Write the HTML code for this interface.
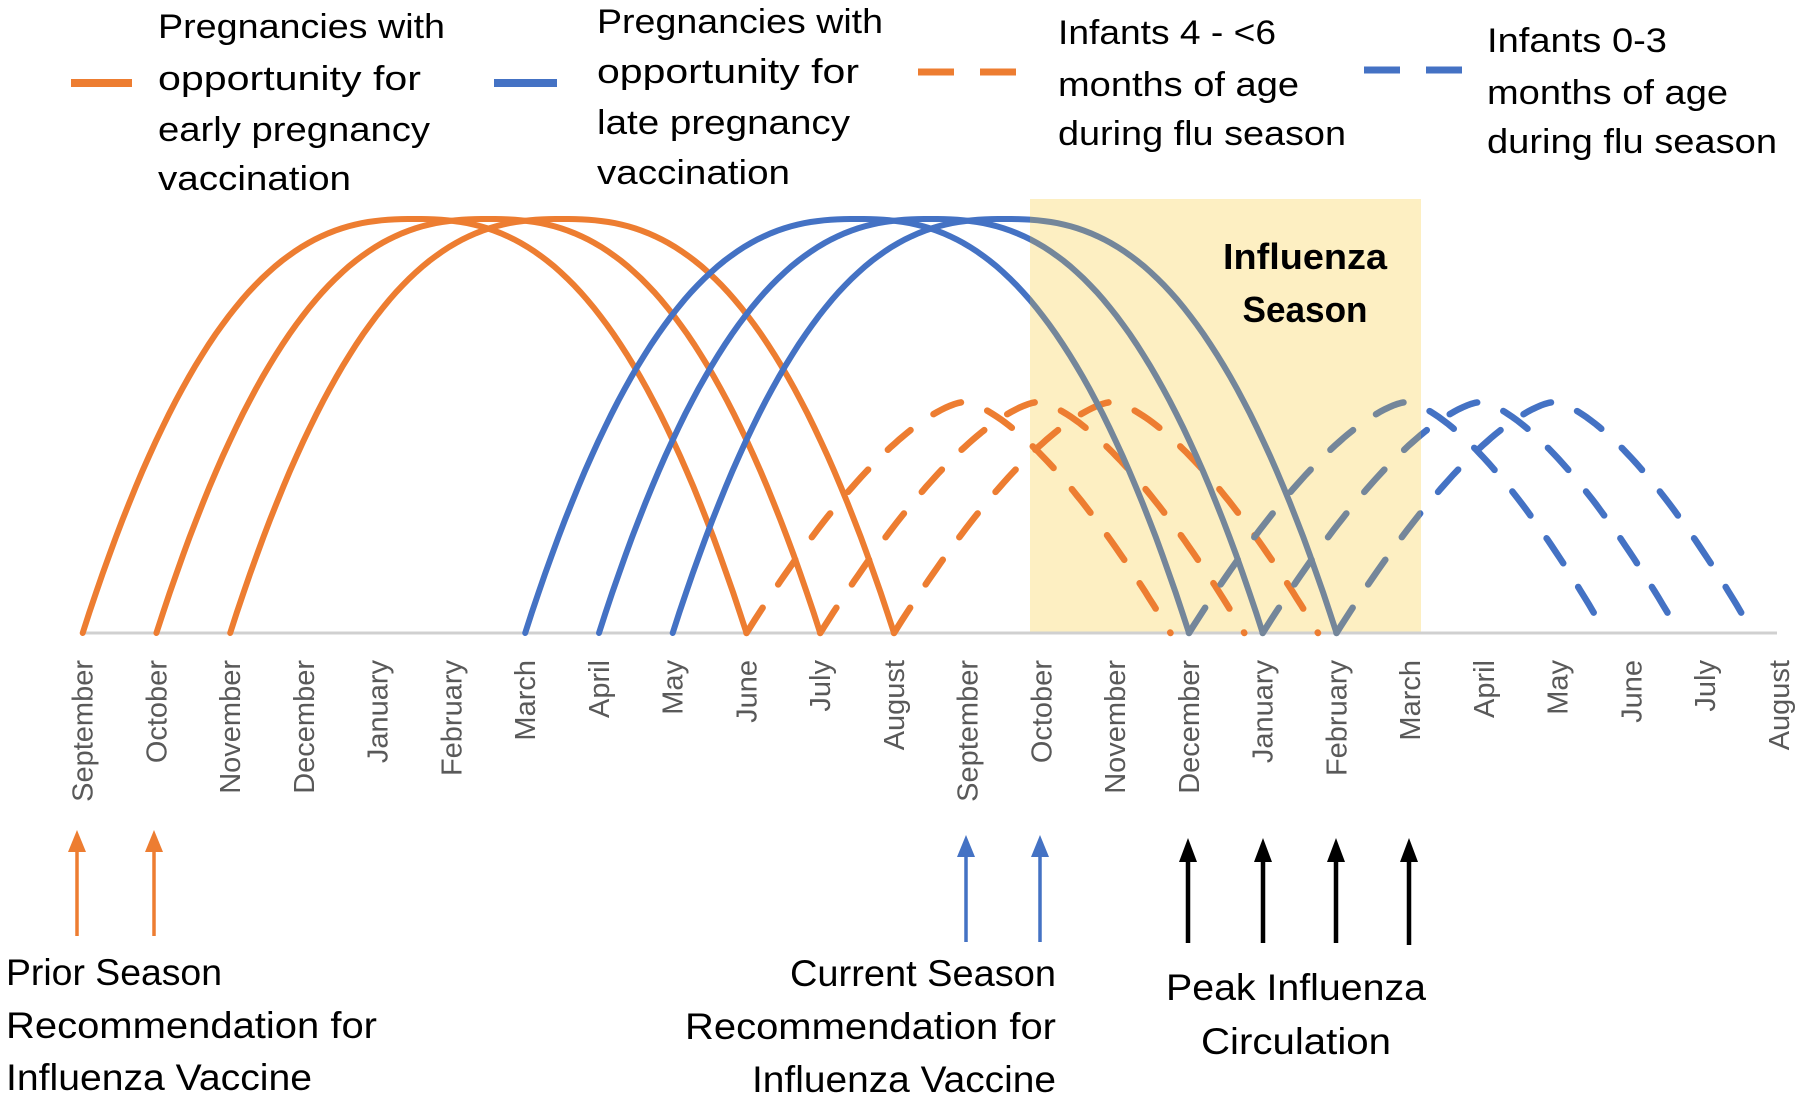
<!DOCTYPE html>
<html><head><meta charset="utf-8"><style>
html,body{margin:0;padding:0;background:#fff;}
svg{display:block;}
text{font-family:"Liberation Sans",sans-serif;}
</style></head><body>
<svg id="s" width="1800" height="1099" viewBox="0 0 1800 1099" xmlns="http://www.w3.org/2000/svg">
<defs>
<clipPath id="out"><rect x="0" y="0" width="1030" height="1099"/><rect x="1421" y="0" width="400" height="1099"/></clipPath>
<clipPath id="in"><rect x="1030" y="0" width="391" height="1099"/></clipPath>
</defs>
<rect x="1030" y="199" width="391" height="434" fill="#FDEFC2"/>
<line x1="80" y1="633" x2="1777" y2="633" stroke="#D0D0D0" stroke-width="3"/>
<g id="curves"></g>
<g id="months" font-size="29" fill="#595959"></g>
<g font-weight="bold" font-size="36" fill="#000" text-anchor="middle">
<text x="1305" y="269" textLength="164" lengthAdjust="spacingAndGlyphs">Influenza</text>
<text x="1305" y="322" textLength="125" lengthAdjust="spacingAndGlyphs">Season</text>
</g>
<line x1="71" y1="83" x2="132" y2="83" stroke="#ED7D31" stroke-width="8"/>
<line x1="494" y1="83" x2="557" y2="83" stroke="#4472C4" stroke-width="8"/>
<line x1="918" y1="72" x2="1019" y2="72" stroke="#ED7D31" stroke-width="7" stroke-dasharray="36,26"/>
<line x1="1364" y1="70" x2="1467" y2="70" stroke="#4472C4" stroke-width="7" stroke-dasharray="36,26"/>
<g font-size="34" fill="#000">
<text x="158" y="38" textLength="287" lengthAdjust="spacingAndGlyphs">Pregnancies with</text>
<text x="158" y="90" textLength="263" lengthAdjust="spacingAndGlyphs">opportunity for</text>
<text x="158" y="141" textLength="272" lengthAdjust="spacingAndGlyphs">early pregnancy</text>
<text x="158" y="190" textLength="193" lengthAdjust="spacingAndGlyphs">vaccination</text>
<text x="597" y="33" textLength="286" lengthAdjust="spacingAndGlyphs">Pregnancies with</text>
<text x="597" y="83" textLength="262" lengthAdjust="spacingAndGlyphs">opportunity for</text>
<text x="597" y="134" textLength="253" lengthAdjust="spacingAndGlyphs">late pregnancy</text>
<text x="597" y="184" textLength="193" lengthAdjust="spacingAndGlyphs">vaccination</text>
<text x="1058" y="44" textLength="218" lengthAdjust="spacingAndGlyphs">Infants 4 - &lt;6</text>
<text x="1058" y="96" textLength="241" lengthAdjust="spacingAndGlyphs">months of age</text>
<text x="1058" y="145" textLength="288" lengthAdjust="spacingAndGlyphs">during flu season</text>
<text x="1487" y="52" textLength="180" lengthAdjust="spacingAndGlyphs">Infants 0-3</text>
<text x="1487" y="104" textLength="241" lengthAdjust="spacingAndGlyphs">months of age</text>
<text x="1487" y="153" textLength="290" lengthAdjust="spacingAndGlyphs">during flu season</text>
</g>
<g stroke-width="3.5">
<line x1="77" y1="936" x2="77" y2="850" stroke="#ED7D31"/><path d="M68 852 L77 830 L86 852Z" fill="#ED7D31"/>
<line x1="154" y1="936" x2="154" y2="850" stroke="#ED7D31"/><path d="M145 852 L154 830 L163 852Z" fill="#ED7D31"/>
<line x1="966" y1="942" x2="966" y2="855" stroke="#4472C4"/><path d="M957 857 L966 835 L975 857Z" fill="#4472C4"/>
<line x1="1040" y1="942" x2="1040" y2="855" stroke="#4472C4"/><path d="M1031 857 L1040 835 L1049 857Z" fill="#4472C4"/>
</g>
<g stroke="#000" stroke-width="4.5" fill="#000">
<line x1="1188" y1="943" x2="1188" y2="860"/><path d="M1179 862 L1188 838 L1197 862Z" stroke="none"/>
<line x1="1263" y1="943" x2="1263" y2="860"/><path d="M1254 862 L1263 838 L1272 862Z" stroke="none"/>
<line x1="1336" y1="943" x2="1336" y2="860"/><path d="M1327 862 L1336 838 L1345 862Z" stroke="none"/>
<line x1="1409" y1="945" x2="1409" y2="860"/><path d="M1400 862 L1409 838 L1418 862Z" stroke="none"/>
</g>
<g font-size="37" fill="#000">
<text x="6" y="985" textLength="216" lengthAdjust="spacingAndGlyphs">Prior Season</text>
<text x="6" y="1038" textLength="371" lengthAdjust="spacingAndGlyphs">Recommendation for</text>
<text x="6" y="1090" textLength="306" lengthAdjust="spacingAndGlyphs">Influenza Vaccine</text>
<text x="790" y="986" textLength="266" lengthAdjust="spacingAndGlyphs">Current Season</text>
<text x="685" y="1039" textLength="371" lengthAdjust="spacingAndGlyphs">Recommendation for</text>
<text x="752" y="1092" textLength="304" lengthAdjust="spacingAndGlyphs">Influenza Vaccine</text>
<text x="1166" y="1000" textLength="260" lengthAdjust="spacingAndGlyphs">Peak Influenza</text>
<text x="1201" y="1054" textLength="190" lengthAdjust="spacingAndGlyphs">Circulation</text>
</g>
</svg>
<script>
var NS="http://www.w3.org/2000/svg";
var X0=82.7,DX=73.75,BASE=633;
function X(i){return X0+DX*i;}
function arc(s,pk,e,top,p){var d="",n=100;var xs=X(s),xp=X(pk),xe=X(e);for(var k=0;k<=n;k++){var x=xs+(xe-xs)*k/n;var t=x<xp?(xp-x)/(xp-xs):(x-xp)/(xe-xp);var y=BASE-(BASE-top)*(1-Math.pow(t,p));d+=(k?"L":"M")+x.toFixed(1)+" "+y.toFixed(1);}return d;}
var g=document.getElementById("curves");
function add(d,col,dash,clip){var p=document.createElementNS(NS,"path");p.setAttribute("d",d);p.setAttribute("fill","none");p.setAttribute("stroke",col);p.setAttribute("stroke-width",dash?"6.5":"6");p.setAttribute("stroke-linecap","round");if(dash)p.setAttribute("stroke-dasharray","30,28");if(clip)p.setAttribute("clip-path","url(#"+clip+")");g.appendChild(p);}
[0,1,2].forEach(function(s){add(arc(s,s+4.5,s+9,219,2.5),"#ED7D31");});
[9,10,11].forEach(function(s){add(arc(s,s+2.95,s+5.75,402,1.5),"#ED7D31",true);});
[6,7,8].forEach(function(s){var d=arc(s,s+4.5,s+9,219,2.5);add(d,"#4472C4",false,"out");add(d,"#74869A",false,"in");});
[15,16,17].forEach(function(s){var d=arc(s,s+2.95,s+5.65,402,1.5);add(d,"#4472C4",true,"out");add(d,"#74869A",true,"in");});
var m=["September","October","November","December","January","February","March","April","May","June","July","August"];
var mg=document.getElementById("months");
for(var i=0;i<24;i++){var t=document.createElementNS(NS,"text");var x=X(i)+10;t.setAttribute("x",x);t.setAttribute("y",660);t.setAttribute("text-anchor","end");t.setAttribute("transform","rotate(-90 "+x+" 660)");t.textContent=m[i%12];mg.appendChild(t);}
</script>
</body></html>
